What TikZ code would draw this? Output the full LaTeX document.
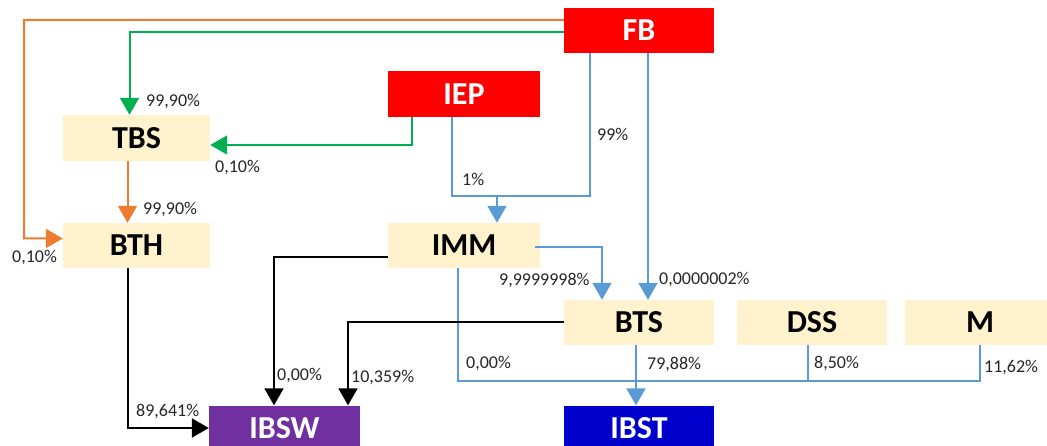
\documentclass[tikz,border=0pt]{standalone}
\usepackage{fontspec}
\setmainfont{Carlito}
\usetikzlibrary{arrows.meta}
\definecolor{boxfill}{HTML}{FFF2CC}
\definecolor{redbox}{HTML}{FF0000}
\definecolor{purplebox}{HTML}{7030A0}
\definecolor{bluebox}{HTML}{0000CC}
\definecolor{orangeline}{HTML}{ED7D31}
\definecolor{greenline}{HTML}{00B050}
\definecolor{blueline}{HTML}{5B9BD5}
\definecolor{labelcol}{HTML}{262626}
\begin{document}
\begin{tikzpicture}[x=1pt,y=-1pt,
  box/.style={minimum width=150pt, minimum height=45pt, inner sep=0pt,
              font=\fontsize{32}{38}\selectfont\bfseries},
  lightbox/.style={box, fill=boxfill, text=black},
  redb/.style={box, fill=redbox, text=white},
  purpleb/.style={box, fill=purplebox, text=white},
  blueb/.style={box, fill=bluebox, text=white},
  lbl/.style={font=\fontsize{18}{21}\selectfont, text=labelcol, anchor=base west, inner sep=0pt},
  conn/.style={line width=2pt},
  tipd/.style={-{Triangle[width=19pt,length=17pt]}},
  orc/.style={conn, draw=orangeline},
  grc/.style={conn, draw=greenline},
  blc/.style={conn, draw=blueline},
  bkc/.style={conn, draw=black}
]
\useasboundingbox (0,0) rectangle (1047,446);

% boxes
\node[redb] (FB) at (639,30.5) {FB};
\node[redb, minimum width=152pt, minimum height=46pt] (IEP) at (464,94) {IEP};
\node[lightbox, minimum width=147pt, minimum height=46pt] (TBS) at (136.5,138) {TBS};
\node[lightbox, minimum width=147pt] (BTH) at (136.5,245.5) {BTH};
\node[lightbox, minimum width=152pt] (IMM) at (464,245.5) {IMM};
\node[lightbox] (BTS) at (639,322.5) {BTS};
\node[lightbox] (DSS) at (812,322.5) {DSS};
\node[lightbox] (M) at (980,322.5) {M};
\node[purpleb, minimum width=151pt] (IBSW) at (284.5,428) {IBSW};
\node[blueb] (IBST) at (639,428) {IBST};

% orange
\draw[orc, tipd] ([yshift=-12pt]FB.north west) -- (24,20) |- ([yshift=7pt]BTH.west);
\draw[orc, tipd] ([xshift=-9pt]TBS.south) -- ([xshift=-9pt]BTH.north);

% green
\draw[grc, tipd] ([yshift=-1.5pt]FB.west) -| ([xshift=-7pt]TBS.north);
\draw[grc, tipd] ([xshift=24pt]IEP.south west) |- ([yshift=-7pt]TBS.east);

% blue
\coordinate (j1) at (497,196);
\draw[blc] ([xshift=-12pt]IEP.south) |- (j1);
\draw[blc] ([xshift=-49pt]FB.south) |- (j1);
\draw[blc, tipd] (j1) -- ([xshift=33pt]IMM.north);
\draw[blc, tipd] ([xshift=9pt]FB.south) -- ([xshift=9pt]BTS.north);
\draw[blc, tipd] ([xshift=-5pt,yshift=-1.5pt]IMM.east) -| ([xshift=-37pt]BTS.north);
\coordinate (busR) at (980,381);
\draw[blc] ([xshift=-6pt]IMM.south) |- (busR) -- (M.south);
\draw[blc] ([xshift=-4pt]DSS.south) -- ([xshift=-4pt]DSS.south |- busR);
\draw[blc, tipd] ([xshift=-3pt]BTS.south) -- ([xshift=-3pt]IBST.north);

% black
\draw[bkc, tipd] ([yshift=-11.5pt]IMM.west) -| ([xshift=-10.5pt]IBSW.north);
\draw[bkc, tipd] (BTS.west) -| ([xshift=63.5pt]IBSW.north);
\draw[bkc, tipd] ([xshift=-8.5pt]BTH.south) |- (IBSW.west);

% labels
\node[lbl] (l1) at (146,107) {99,90\%};
\node[lbl] (l2) at (215,173) {0,10\%};
\node[lbl] (l3) at (597,141) {99\%};
\node[lbl] (l4) at (462,186) {1\%};
\node[lbl] (l5) at (143,215) {99,90\%};
\node[lbl] (l6) at (12,263) {0,10\%};
\node[lbl] (l7) at (499,286) {9,9999998\%};
\node[lbl] (l8) at (659,285) {0,0000002\%};
\node[lbl] (l9) at (466,368) {0,00\%};
\node[lbl] (l10) at (647,370) {79,88\%};
\node[lbl] (l11) at (814,368) {8,50\%};
\node[lbl] (l12) at (984,372) {11,62\%};
\node[lbl] (l13) at (277,380) {0,00\%};
\node[lbl] (l14) at (351,382) {10,359\%};
\node[lbl] (l15) at (136,416) {89,641\%};
\end{tikzpicture}
\end{document}
